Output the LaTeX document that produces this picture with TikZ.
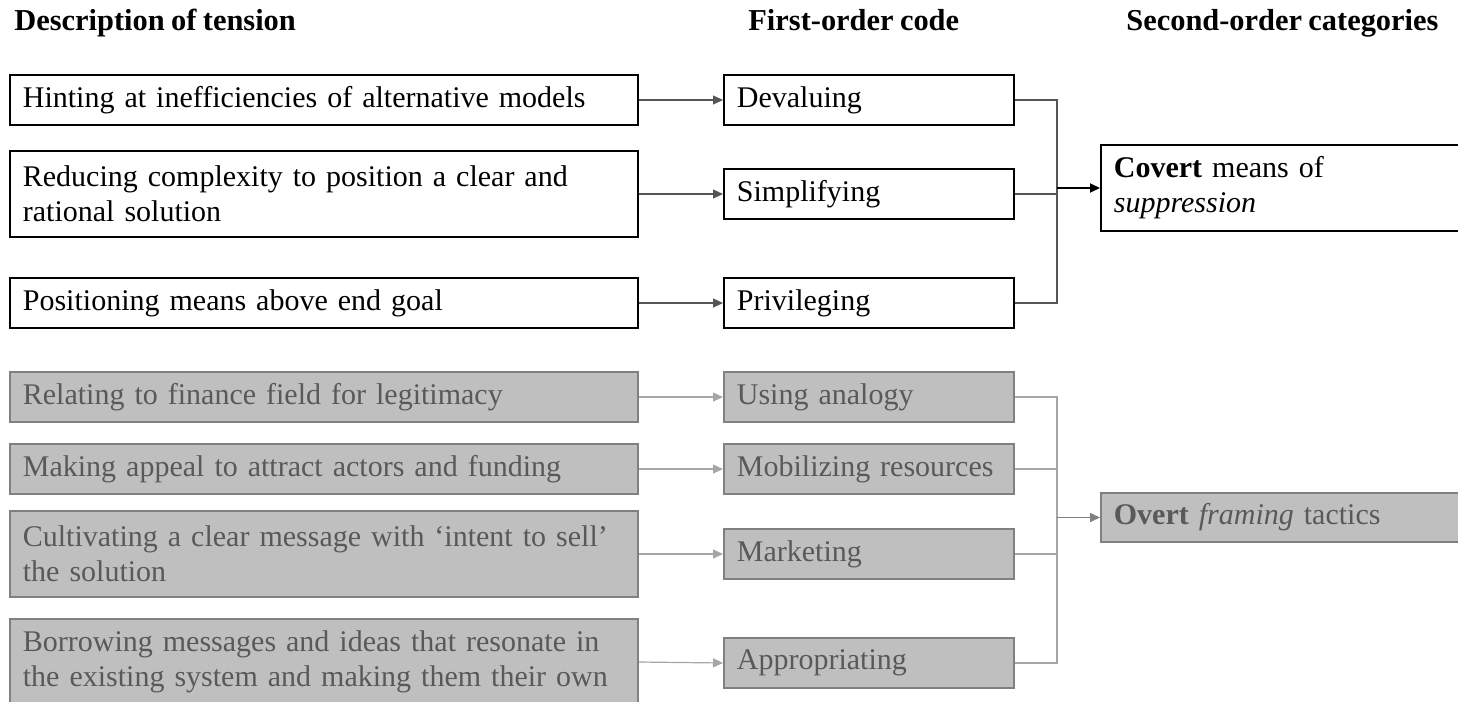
\documentclass[tikz,border=0pt]{standalone}
\usepackage{fontspec}
\setmainfont[WordSpace=0.85]{Liberation Serif}
\usetikzlibrary{arrows.meta}
\definecolor{gfill}{HTML}{BFBFBF}
\definecolor{gborder}{HTML}{808080}
\definecolor{gtext}{HTML}{595959}
\definecolor{gline}{HTML}{A6A6A6}
\definecolor{kline}{HTML}{555555}
\begin{document}
\begin{tikzpicture}[x=0.5pt,y=-0.5pt,
  font=\fontsize{15}{17.5}\selectfont,
  box/.style={draw, line width=0.9pt, anchor=west, inner xsep=6.5pt, inner ysep=0pt, align=left},
  lbox/.style={box, text width=301pt},
  mbox/.style={box, text width=132pt},
  rbox/.style={box, text width=172pt},
  one/.style={minimum height=25pt},
  two/.style={minimum height=43pt},
  blk/.style={draw=black, fill=white, text=black},
  gry/.style={draw=gborder, fill=gfill, text=gtext},
  hdr/.style={anchor=base west, inner sep=0pt, font=\fontsize{15.2}{17.5}\selectfont\bfseries},
  tip/.style={-{Triangle[length=5pt,width=4.5pt]}},
  kconn/.style={draw=kline, line width=0.6pt},
  gconn/.style={draw=gline, line width=0.6pt}
]
\useasboundingbox (0,0) rectangle (1458,702);
\clip (0,0) rectangle (1458,702);

% headers
\node[hdr] (h1) at (14,30) {Description of tension};
\node[hdr] (h2) at (748,30) {First-order code};
\node[hdr] (h3) at (1126,30) {Second-order categories};

% left column
\node[lbox,one,blk] (L1) at (9,100) {Hinting at inefficiencies of alternative models};
\node[lbox,two,blk] (L2) at (9,194) {Reducing complexity to position a clear and\\rational solution};
\node[lbox,one,blk] (L3) at (9,303) {Positioning means above end goal};
\node[lbox,one,gry] (L4) at (9,397) {Relating to finance field for legitimacy};
\node[lbox,one,gry] (L5) at (9,469) {Making appeal to attract actors and funding};
\node[lbox,two,gry] (L6) at (9,554) {Cultivating a clear message with ‘intent to sell’\\the solution};
\node[lbox,two,gry] (L7) at (9,662) {Borrowing messages and ideas that resonate in\\the existing system and making them their own};

% middle column
\node[mbox,one,blk] (M1) at (723,100) {Devaluing};
\node[mbox,one,blk] (M2) at (723,194) {Simplifying};
\node[mbox,one,blk] (M3) at (723,303) {Privileging};
\node[mbox,one,gry] (M4) at (723,397) {Using analogy};
\node[mbox,one,gry] (M5) at (723,469) {Mobilizing resources};
\node[mbox,one,gry] (M6) at (723,554) {Marketing};
\node[mbox,one,gry] (M7) at (723,663) {Appropriating};

% right column
\node[rbox,two,blk] (R1) at (1100,188) {\textbf{Covert} means of\\\textit{suppression}};
\node[rbox,gry,minimum height=24.5pt] (R2) at (1100,517.5) {\textbf{Overt} \textit{framing} tactics};

% junction points
\coordinate (jt) at (1057,188);
\coordinate (jb) at (1057,517.5);

% left -> middle
\draw[kconn,tip,fill=black] (L1.east) -- (M1.west);
\draw[kconn,tip,fill=black] (L2.east) -- (M2.west);
\draw[kconn,tip,fill=black] (L3.east) -- (M3.west);
\draw[gconn,tip,fill=gborder] (L4.east) -- (M4.west);
\draw[gconn,tip,fill=gborder] (L5.east) -- (M5.west);
\draw[gconn,tip,fill=gborder] (L6.east) -- (M6.west);
\draw[gconn,tip,fill=gborder] (L7.east) -- (M7.west);

% middle -> right (top)
\draw[kconn] (M1.east) -| (jt);
\draw[kconn] (M3.east) -| (jt);
\draw[kconn] (M2.east) -- (M2.east -| jt);
\draw[line width=1pt,draw=black,tip] (jt) -- (R1.west);

% middle -> right (bottom)
\draw[gconn] (M4.east) -| (jb);
\draw[gconn] (M7.east) -| (jb);
\draw[gconn] (M5.east) -- (M5.east -| jb);
\draw[gconn] (M6.east) -- (M6.east -| jb);
\draw[line width=0.8pt,draw=gborder,tip] (jb) -- (R2.west);
\end{tikzpicture}
\end{document}
